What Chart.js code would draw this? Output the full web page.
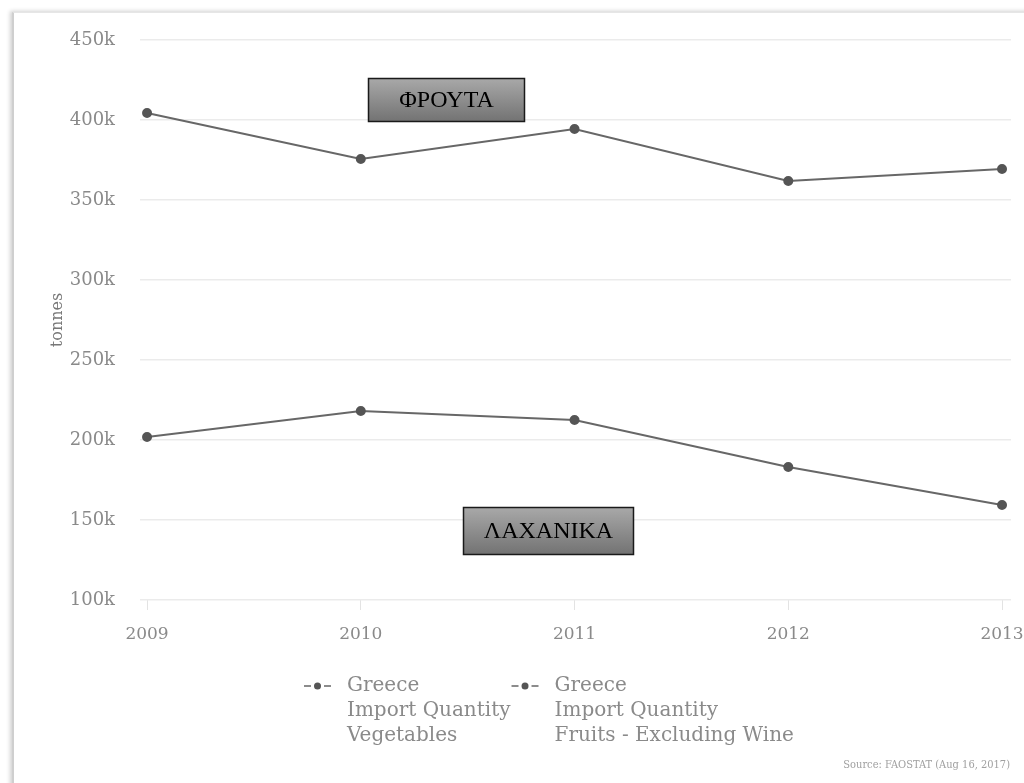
<!DOCTYPE html>
<html>
<head>
<meta charset="utf-8">
<script src="https://cdn.jsdelivr.net/npm/chart.js@4"></script>
<style>
  html, body { margin:0; padding:0; background:#ffffff; width:1024px; height:783px; overflow:hidden; }
  #card { position:absolute; left:12px; top:12px; width:1100px; height:900px; background:#fff;
          border-left:2px solid #cfcfcf; border-top:1px solid #e6e6e6;
          box-shadow:-2px -1px 4px rgba(0,0,0,0.18); }
  #c { position:absolute; left:0; top:0; }
</style>
</head>
<body>
<div id="card"></div>
<canvas id="c" width="1024" height="783"></canvas>
<script>
// ---- data ----
const years = [2009, 2010, 2011, 2012, 2013];
const vegetables = [201900, 218100, 212500, 183100, 159400];
const fruits = [404400, 375600, 394400, 361900, 369400];
const vegLabel = ['Greece', 'Import Quantity', 'Vegetables'];
const fruitLabel = ['Greece', 'Import Quantity', 'Fruits - Excluding Wine'];
const yTickValues = [100000, 150000, 200000, 250000, 300000, 350000, 400000, 450000];
const yTitle = 'tonnes';
const sourceText = 'Source: FAOSTAT (Aug 16, 2017)';
const noteTexts = ['ΦΡΟΥΤΑ', 'ΛΑΧΑΝΙΚΑ'];
const noteYears = [2010.40, 2010.88];
const noteValues = [412800, 143100];

const noteSizes = [[157, 44], [171, 48]];
const lineColor = '#676767';
const pointColor = '#555555';
const tickColor = '#8a8a8a';

const overlay = {
  id: 'overlay',
  afterDatasetsDraw(chart) {
    const {ctx, scales: {x, y}} = chart;
    ctx.save();
    noteTexts.forEach((t, i) => {
      const cx = x.getPixelForValue(noteYears[i]);
      const cy = y.getPixelForValue(noteValues[i]);
      const [w, h] = noteSizes[i];
      const l = Math.round(cx - w / 2), tp = Math.round(cy - h / 2);
      const g = ctx.createLinearGradient(0, tp, 0, tp + h);
      g.addColorStop(0, '#a9a9a9');
      g.addColorStop(1, '#727272');
      ctx.fillStyle = g;
      ctx.fillRect(l, tp, w, h);
      ctx.lineWidth = 1.5;
      ctx.strokeStyle = '#1a1a1a';
      ctx.strokeRect(l + 0.5, tp + 0.5, w - 1, h - 1);
      ctx.fillStyle = '#000';
      ctx.font = '24px "Liberation Serif", "Times New Roman", serif';
      ctx.textAlign = 'center';
      ctx.textBaseline = 'middle';
      ctx.fillText(t, l + w / 2, tp + h / 2 + 1);
    });
    ctx.restore();
  },
  afterDraw(chart) {
    const {ctx, chartArea} = chart;
    ctx.save();
    const groups = [vegLabel, fruitLabel];
    ctx.font = '20px "DejaVu Serif"';
    ctx.textBaseline = 'middle';
    ctx.textAlign = 'left';
    let xPos = chartArea.left + 164;
    const y0 = chartArea.bottom + 86;
    groups.forEach((lines) => {
      ctx.strokeStyle = lineColor;
      ctx.lineWidth = 1.5;
      ctx.beginPath();
      ctx.moveTo(xPos, y0); ctx.lineTo(xPos + 7, y0);
      ctx.moveTo(xPos + 20, y0); ctx.lineTo(xPos + 27, y0);
      ctx.stroke();
      ctx.fillStyle = pointColor;
      ctx.beginPath();
      ctx.arc(xPos + 13.5, y0, 3.5, 0, Math.PI * 2);
      ctx.fill();
      const tx = xPos + 43;
      ctx.fillStyle = tickColor;
      let maxW = 0;
      lines.forEach((ln, j) => {
        ctx.fillText(ln, tx, y0 + j * 25);
        maxW = Math.max(maxW, ctx.measureText(ln).width);
      });
      xPos = tx + maxW + 1;
    });
    ctx.font = '11px "DejaVu Serif Condensed", "DejaVu Serif"';
    ctx.fillStyle = '#a0a0a0';
    ctx.textAlign = 'right';
    ctx.fillText(sourceText, chart.width - 14, chartArea.bottom + 165);
    ctx.restore();
  }
};

new Chart(document.getElementById('c'), {
  type: 'line',
  data: {
    datasets: [
      { label: vegLabel.join(' '), data: years.map((yr, i) => ({x: yr, y: vegetables[i]})),
        borderColor: lineColor, backgroundColor: pointColor, pointBackgroundColor: pointColor,
        pointBorderColor: pointColor, borderWidth: 2, pointRadius: 4, tension: 0 },
      { label: fruitLabel.join(' '), data: years.map((yr, i) => ({x: yr, y: fruits[i]})),
        borderColor: lineColor, backgroundColor: pointColor, pointBackgroundColor: pointColor,
        pointBorderColor: pointColor, borderWidth: 2, pointRadius: 4, tension: 0 }
    ]
  },
  options: {
    responsive: false,
    animation: false,
    layout: { padding: { left: 0, right: 13, top: 40, bottom: 123 } },
    plugins: { legend: { display: false }, tooltip: { enabled: false } },
    scales: {
      x: {
        type: 'linear',
        min: 2008.967, max: 2013.042,
        afterBuildTicks: (s) => { s.ticks = years.map(v => ({value: v})); },
        afterFit: (s) => { s.height = 60; s.paddingLeft = 0; s.paddingRight = 0; },
        grid: { drawOnChartArea: false, drawTicks: true, tickLength: 10, color: '#e3e3e3', lineWidth: 1 },
        border: { display: false },
        ticks: { color: tickColor, font: { family: 'DejaVu Serif', size: 17 }, padding: 14,
                 maxRotation: 0, callback: (v) => String(v) }
      },
      y: {
        min: 100000, max: 450000,
        afterBuildTicks: (s) => { s.ticks = yTickValues.map(v => ({value: v})); },
        afterFit: (s) => { s.width = 140; s.paddingTop = 0; s.paddingBottom = 0; },
        grid: { drawTicks: false, color: '#ebebeb', lineWidth: 1.5 },
        border: { display: false },
        ticks: { color: tickColor, font: { family: 'DejaVu Serif', size: 18 }, padding: 25,
                 callback: (v) => (v / 1000) + 'k' },
        title: { display: true, text: yTitle, color: '#777', font: { family: 'DejaVu Serif', size: 16 },
                 padding: { top: 48, bottom: 0 } }
      }
    }
  },
  plugins: [overlay]
});
</script>
</body>
</html>
